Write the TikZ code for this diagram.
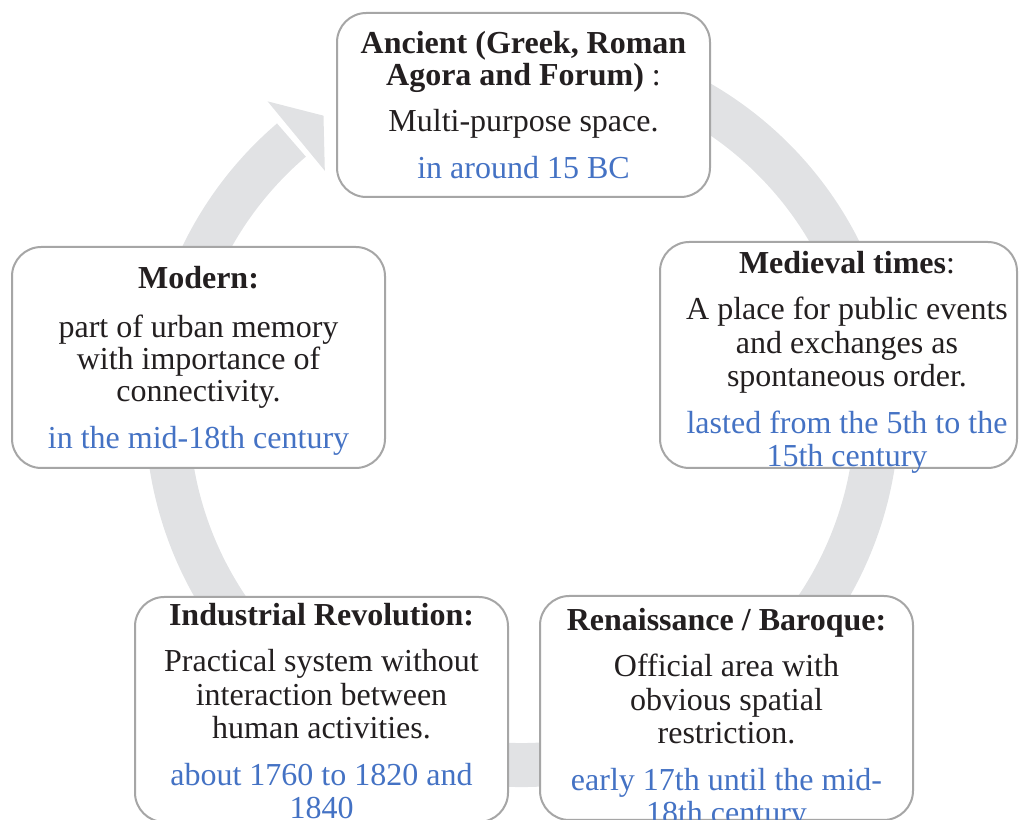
\documentclass[tikz,border=0pt]{standalone}
\usepackage{fontspec}
\setmainfont{Liberation Serif}
\usetikzlibrary{calc}
\definecolor{ringgray}{RGB}{225,226,228}
\definecolor{boxgray}{RGB}{166,166,166}
\definecolor{dateblue}{RGB}{68,114,196}
\definecolor{txt}{RGB}{35,31,32}
\tikzset{
  stage/.style={draw=boxgray, line width=1.5pt, rounded corners=22pt, fill=white, inner sep=0pt},
  stagetext/.style={anchor=north, align=center, inner sep=0pt, text=txt, font=\fontsize{24}{25}\selectfont},
}
\newcommand{\dt}[1]{\textcolor{dateblue}{#1}}
\newcommand{\st}{\rule{0pt}{18pt}}

\begin{document}
\begin{tikzpicture}[x=0.75pt,y=0.75pt]
	\useasboundingbox (0,0) rectangle (1021,820);
	
	% Ring
	\coordinate (C) at (522,410);
	\draw[ringgray, line width=33pt] (C) ++(100:355) arc[start angle=100, end angle=-229.5, radius=355];
	\fill[ringgray] ($(C)+(129.5:400)$) -- ($(C)+(124:355)$) -- ($(C)+(129.5:310)$) -- cycle;
	
	% Boxes
	\node[stage, minimum width=279.75pt, minimum height=138pt] (anc) at (523.5,715) {};
	\node[stage, minimum width=267.75pt, minimum height=169.5pt] (med) at (838.5,465) {};
	\node[stage, minimum width=279.75pt, minimum height=165.75pt] (mod) at (198.5,462.5) {};
	\node[stage, minimum width=279.75pt, minimum height=168.75pt] (ind) at (321.5,110.5) {};
	\node[stage, minimum width=279.75pt, minimum height=168pt] (ren) at (726.5,112) {};
	
	% Texts
	\node[stagetext] (ancT) at (523.5,791) {\st\textbf{Ancient (Greek, Roman}\\[-1pt]
		\textbf{Agora and Forum)} :\\[10pt]
		Multi-purpose space.\\[10pt]
		\dt{in around 15 BC}};
	\node[stagetext] (medT) at (847,571) {\st\textbf{Medieval times}:\\[10pt]
		A place for public events\\
		and exchanges as\\
		spontaneous order.\\[10pt]
		\dt{lasted from the 5th to the}\\
		\dt{15th century}};
	\node[stagetext] (modT) at (198.5,556) {\st\textbf{Modern:}\\[12pt]
		part of urban memory\\[-1pt]
		with importance of\\[-1pt]
		connectivity.\\[10pt]
		\dt{in the mid-18th century}};
	\node[stagetext] (indT) at (321.5,219) {\st\textbf{Industrial Revolution:}\\[10pt]
		Practical system without\\
		interaction between\\
		human activities.\\[10pt]
		\dt{about 1760 to 1820 and}\\
		\dt{1840}};
	\node[stagetext] (renT) at (726.5,214) {\st\textbf{Renaissance / Baroque:}\\[10pt]
		Official area with\\
		obvious spatial\\
		restriction.\\[10pt]
		\dt{early 17th until the mid-}\\
		\dt{18th century}};
\end{tikzpicture}
\end{document}
